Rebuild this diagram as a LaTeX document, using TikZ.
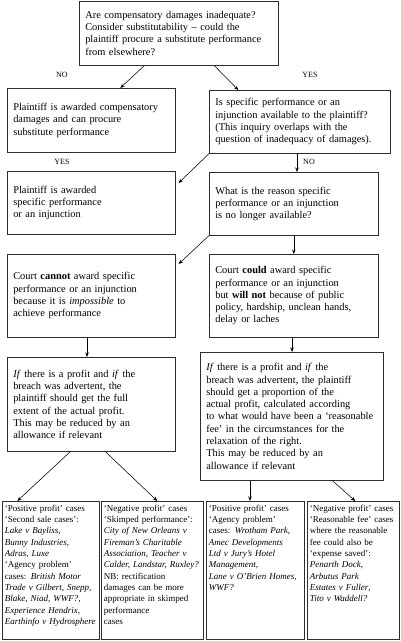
\documentclass[tikz,border=0pt]{standalone}
\usepackage{fontspec}
\setmainfont{Liberation Serif}
\usetikzlibrary{arrows.meta,calc}

\tikzset{every picture/.style={line width=0.6pt}}
\tikzset{
  box/.style={draw={rgb, 255:red, 45; green, 45; blue, 45}, anchor=north west, align=left,
    inner xsep=6pt, inner ysep=2pt, font=\fontsize{10.4}{12.3}\selectfont,
    execute at begin node={\hyphenpenalty10000\relax}},
  casebox/.style={draw={rgb, 255:red, 45; green, 45; blue, 45}, anchor=north west, align=left,
    inner xsep=2.5pt, inner ysep=3pt, text height=7pt, text depth=125pt,
    font=\fontsize{9}{11.3}\selectfont, execute at begin node={\hyphenpenalty10000\relax}},
  yn/.style={font=\fontsize{8}{9}\selectfont},
  arr/.style={-{Stealth[length=4.5pt,width=3.5pt]}, line width=0.55pt},
}

\begin{document}
\begin{tikzpicture}[x=1pt,y=1pt,yscale=-1,xscale=1]
	\useasboundingbox (0,0) rectangle (400,641);

	%Shape: Rectangle [question]
	\node[box, text width=187pt, minimum height=64] (adequate) at (79,1) {Are compensatory damages inadequate?\\Consider substitutability -- could the\\plaintiff procure a substitute performance\\from elsewhere?};
	%Shape: Rectangle [left branch]
	\node[box, text width=156pt, minimum height=64] (compdam) at (7,88) {Plaintiff is awarded compensatory\\damages and can procure\\substitute performance};
	%Shape: Rectangle [right branch]
	\node[box, text width=169pt, minimum height=63] (available) at (209,90) {Is specific performance or an\\injunction available to the plaintiff?\\(This inquiry overlaps with the\\question of inadequacy of damages).};
	%Shape: Rectangle
	\node[box, text width=156pt, minimum height=63] (awarded) at (7,171) {Plaintiff is awarded\\specific performance\\or an injunction};
	%Shape: Rectangle
	\node[box, text width=157pt, minimum height=63] (reason) at (209,172) {What is the reason specific\\performance or an injunction\\is no longer available?};
	%Shape: Rectangle
	\node[box, text width=156pt, minimum height=83] (cannot) at (7,254) {Court \textbf{cannot} award specific\\performance or an injunction\\because it is \textit{impossible} to\\achieve performance};
	%Shape: Rectangle
	\node[box, text width=157pt, minimum height=83] (willnot) at (209,254) {Court \textbf{could} award specific\\performance or an injunction\\but \textbf{will not} because of public\\policy, hardship, unclean hands,\\delay or laches};
	%Shape: Rectangle
	\node[box, text width=156pt, minimum height=94] (fullprofit) at (7,357) {\textit{If} there is a profit and \textit{if} the\\breach was advertent, the\\plaintiff should get the full\\extent of the actual profit.\\This may be reduced by an\\allowance if relevant};
	%Shape: Rectangle
	\node[box, text width=171pt, minimum height=128] (propprofit) at (200,352) {\textit{If} there is a profit and \textit{if} the\\breach was advertent, the plaintiff\\should get a proportion of the\\actual profit, calculated according\\to what would have been a `reasonable\\fee' in the circumstances for the\\relaxation of the right.\\This may be reduced by an\\allowance if relevant};

	%Shape: Rectangle [cases]
	\node[casebox, text width=92pt] (poscase1) at (2,501) {`Positive profit' cases\\`Second sale cases':\\\textit{Lake v Bayliss},\\\textit{Bunny Industries},\\\textit{Adras, Luxe}\\`Agency problem'\\cases: \textit{British Motor}\\\textit{Trade v Gilbert, Snepp},\\\textit{Blake, Niad, WWF?},\\\textit{Experience Hendrix},\\\textit{Earthinfo v Hydrosphere}};
	\node[casebox, text width=97pt] (negcase1) at (101,501) {`Negative profit' cases\\`Skimped performance':\\\textit{City of New Orleans v}\\\textit{Fireman's Charitable}\\\textit{Association, Teacher v}\\\textit{Calder, Landstar, Ruxley?}\\NB: rectification\\damages can be more\\appropriate in skimped\\performance\\cases};
	\node[casebox, text width=93pt] (poscase2) at (206,501) {`Positive profit' cases\\`Agency problem'\\cases: \textit{Wrotham Park},\\\textit{Amec Developments}\\\textit{Ltd v Jury's Hotel}\\\textit{Management},\\\textit{Lane v O'Brien Homes},\\\textit{WWF?}};
	\node[casebox, text width=87pt] (negcase2) at (307,501) {`Negative profit' cases\\`Reasonable fee' cases\\where the reasonable\\fee could also be\\`expense saved':\\\textit{Penarth Dock},\\\textit{Arbutus Park}\\\textit{Estates v Fuller},\\\textit{Tito v Waddell?}};

	%Straight Lines
	\draw[arr] ($(adequate.south)+(-34.5,0)$) -- ($(compdam.north)+(29,0)$);
	\draw[arr] ($(adequate.south)+(35.5,0)$) -- ($(available.north)+(-61.5,0)$);
	\draw[arr] (available.south -| 297,0) -- (reason.north -| 297,0);
	\draw[arr] (available.south west) -- ($(awarded.north east)+(3,12)$);
	\draw[arr] (reason.south) -- (willnot.north);
	\draw[arr] (reason.south west) -- ($(cannot.north east)+(3,10)$);
	\draw[arr] (cannot.south -| 87,0) -- (fullprofit.north -| 87,0);
	\draw[arr] (willnot.south -| 292,0) -- (propprofit.north -| 292,0);
	\draw[arr] ($(fullprofit.south)+(-21,0)$) -- ($(poscase1.north)+(-33.5,0)$);
	\draw[arr] ($(fullprofit.south)+(14,0)$) -- ($(negcase1.north)+(5,0)$);
	\draw[arr] (propprofit.south -| 250,0) -- (poscase2.north -| 250,0);
	\draw[arr] ($(propprofit.south)+(40.5,0)$) -- ($(negcase2.north)+(2,0)$);

	% Text Node
	\node[yn] (no1) at (62,75) {NO};
	% Text Node
	\node[yn] (yes1) at (310,75) {YES};
	% Text Node
	\node[yn] (yes2) at (62,162) {YES};
	% Text Node
	\node[yn] (no2) at (309,162) {NO};

\end{tikzpicture}
\end{document}
